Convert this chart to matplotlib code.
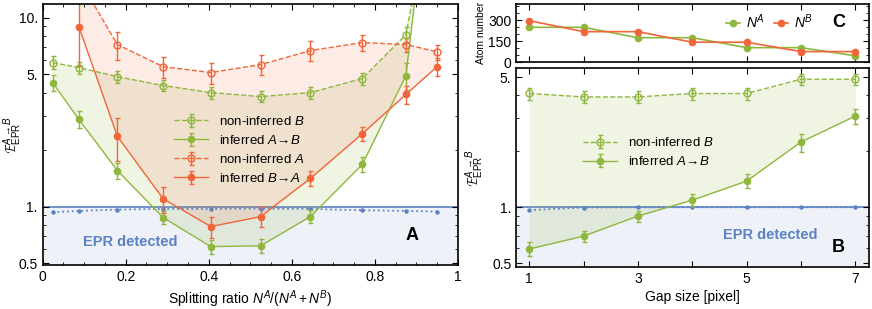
import matplotlib.pyplot as plt
from matplotlib.ticker import FixedLocator, FixedFormatter, NullFormatter

plt.rcParams['font.family'] = ['Liberation Sans', 'DejaVu Sans']
plt.rcParams['mathtext.fontset'] = 'custom'
plt.rcParams['mathtext.it'] = 'Liberation Sans:italic'
plt.rcParams['mathtext.rm'] = 'Liberation Sans'

green = '#8fb73e'
orange = '#f0653a'
blue = '#5b82c3'

# panel A: splitting ratio scan
split_x = [0.024, 0.087, 0.18, 0.29, 0.405, 0.525, 0.645, 0.77, 0.875, 0.95]
nonB_a = [5.78, 5.44, 4.87, 4.37, 4.01, 3.82, 4.01, 4.76, 8.13, 60]
nonB_a_err = [0.45, 0.4, 0.35, 0.3, 0.3, 0.25, 0.3, 0.35, 0.8, 5]
infAB_a = [4.53, 2.89, 1.55, 0.875, 0.614, 0.62, 0.885, 1.67, 4.93, 120]
infAB_a_err = [0.45, 0.3, 0.15, 0.07, 0.05, 0.05, 0.07, 0.15, 0.8, 10]
orange_x = [0.087, 0.18, 0.29, 0.405, 0.525, 0.645, 0.77, 0.875, 0.95]
nonA_a = [16, 7.2, 5.5, 5.12, 5.64, 6.69, 7.38, 7.2, 6.6]
nonA_a_err = [3, 1.2, 0.7, 0.65, 0.7, 0.8, 0.7, 0.6, 0.6]
infBA_a = [8.96, 2.35, 1.10, 0.784, 0.885, 1.41, 2.43, 3.92, 5.5]
infBA_a_err = [3.4, 0.6, 0.17, 0.1, 0.11, 0.13, 0.22, 0.45, 0.6]
bound_a = [0.933, 0.949, 0.964, 0.972, 0.972, 0.976, 0.972, 0.956, 0.949, 0.941]

# panel B/C: gap size scan
gap = [1, 2, 3, 4, 5, 6, 7]
nonB_b = [4.09, 3.92, 3.92, 4.09, 4.09, 4.88, 4.88]
nonB_b_err = [0.3, 0.3, 0.3, 0.3, 0.3, 0.35, 0.35]
infAB_b = [0.595, 0.698, 0.895, 1.09, 1.38, 2.24, 3.09]
infAB_b_err = [0.05, 0.05, 0.06, 0.08, 0.12, 0.25, 0.3]
bound_b = [0.963, 0.995, 0.997, 0.998, 0.998, 0.998, 0.998]
atoms_A = [248, 248, 174, 174, 103, 103, 45]
atoms_B = [295, 217, 217, 142, 142, 75, 75]

ylab = r'$\mathcal{E}^{A\to B}_{\rm EPR}$'
cap = dict(capsize=1.8, elinewidth=1.0, capthick=1.0)


def frame(ax):
    ax.tick_params(which='both', direction='in', top=True, right=True, labelsize=10)
    ax.tick_params(which='major', length=4)
    ax.tick_params(which='minor', length=2)
    for s in ax.spines.values():
        s.set_linewidth(1.2)


def log_ticks(ax):
    ax.set_yscale('log')
    ax.yaxis.set_major_locator(FixedLocator([0.5, 1, 5, 10]))
    ax.yaxis.set_major_formatter(FixedFormatter(['0.5', '1.', '5.', '10.']))
    ax.yaxis.set_minor_locator(FixedLocator([0.6, 0.7, 0.8, 0.9, 2, 3, 4, 6, 7, 8, 9]))
    ax.yaxis.set_minor_formatter(NullFormatter())


fig = plt.figure(figsize=(8.72, 3.09), dpi=100)
axA = fig.add_axes([0.049, 0.142, 0.476, 0.845])
axC = fig.add_axes([0.592, 0.799, 0.405, 0.188])
axB = fig.add_axes([0.592, 0.136, 0.405, 0.643])

# ---- A ----
axA.axhspan(0.3, 1.0, color='#eef1f7', zorder=0)
axA.axhline(1.0, color=blue, lw=1.2, zorder=1)
axA.fill_between(split_x, nonB_a, infAB_a, color=green, alpha=0.14, lw=0)
axA.fill_between(orange_x, nonA_a, infBA_a, color=orange, alpha=0.13, lw=0)
axA.plot(split_x, bound_a, ':', color=blue, lw=1.3, marker='o', ms=2.2)
axA.errorbar(split_x, nonB_a, yerr=nonB_a_err, fmt='--o', color=green, mfc='none',
             ms=5, lw=1, label='non-inferred $B$', **cap)
axA.errorbar(split_x, infAB_a, yerr=infAB_a_err, fmt='-o', color=green,
             ms=4.5, lw=1, label=r'inferred $A\!\to\!B$', **cap)
axA.errorbar(orange_x, nonA_a, yerr=nonA_a_err, fmt='--o', color=orange, mfc='none',
             ms=5, lw=1, label='non-inferred $A$', **cap)
axA.errorbar(orange_x, infBA_a, yerr=infBA_a_err, fmt='-o', color=orange,
             ms=4.5, lw=1, label=r'inferred $B\!\to\!A$', **cap)
axA.set_xlim(0, 1)
axA.set_ylim(0.49, 11.8)
log_ticks(axA)
axA.set_xticks([0, 0.2, 0.4, 0.6, 0.8, 1.0])
axA.set_xticklabels(['0', '0.2', '0.4', '0.6', '0.8', '1'])
axA.set_xticks([i * 0.05 for i in range(21)], minor=True)
frame(axA)
axA.set_xlabel('Splitting ratio $N^A/(N^A+N^B)$', fontsize=10, labelpad=3)
axA.set_ylabel(ylab, fontsize=10)
axA.yaxis.set_label_coords(-0.045, 0.5)
axA.legend(loc='upper left', bbox_to_anchor=(0.3, 0.6), frameon=False, fontsize=9.5,
           handlelength=2.6, labelspacing=0.45, borderpad=0)
axA.text(0.21, 0.09, 'EPR detected', transform=axA.transAxes, color=blue,
         fontsize=10.5, fontweight='bold', ha='center', va='center')
axA.text(0.89, 0.115, 'A', transform=axA.transAxes, fontsize=13, fontweight='bold',
         ha='center', va='center')

# ---- C ----
axC.plot(gap, atoms_A, '-o', color=green, ms=4.5, lw=1.2, label='$N^A$')
axC.plot(gap, atoms_B, '-o', color=orange, ms=4.5, lw=1.2, label='$N^B$')
axC.set_xlim(0.76, 7.26)
axC.set_ylim(0, 414)
axC.set_yticks([0, 150, 300])
axC.set_yticks([50, 100, 200, 250, 350, 400], minor=True)
axC.set_xticks(gap)
axC.set_xticklabels([])
frame(axC)
axC.set_ylabel('Atom number', fontsize=7.5)
axC.yaxis.set_label_coords(-0.085, 0.5)
axC.legend(loc='center left', bbox_to_anchor=(0.575, 0.69), ncol=2, frameon=False,
           fontsize=10, handlelength=1.0, columnspacing=0.7, handletextpad=0.4, borderpad=0)
axC.text(0.912, 0.69, 'C', transform=axC.transAxes, fontsize=13, fontweight='bold',
         ha='center', va='center')

# ---- B ----
axB.axhspan(0.3, 1.0, color='#eef1f7', zorder=0)
axB.axhline(1.0, color=blue, lw=1.2, zorder=1)
axB.fill_between(gap, nonB_b, infAB_b, color=green, alpha=0.14, lw=0)
axB.plot(gap, bound_b, ':', color=blue, lw=1.3, marker='o', ms=2.2)
axB.errorbar(gap, nonB_b, yerr=nonB_b_err, fmt='--o', color=green, mfc='none',
             ms=5, lw=1, label='non-inferred $B$', **cap)
axB.errorbar(gap, infAB_b, yerr=infAB_b_err, fmt='-o', color=green,
             ms=4.5, lw=1, label=r'inferred $A\!\to\!B$', **cap)
axB.set_xlim(0.76, 7.26)
axB.set_ylim(0.476, 5.59)
log_ticks(axB)
axB.set_xticks(gap)
axB.set_xticklabels(['1', '', '3', '', '5', '', '7'])
frame(axB)
axB.set_xlabel('Gap size [pixel]', fontsize=10, labelpad=3)
axB.set_ylabel(ylab, fontsize=10)
axB.yaxis.set_label_coords(-0.085, 0.5)
axB.legend(loc='upper left', bbox_to_anchor=(0.17, 0.69), frameon=False, fontsize=9.5,
           handlelength=2.6, labelspacing=0.45, borderpad=0)
axB.text(0.72, 0.16, 'EPR detected', transform=axB.transAxes, color=blue,
         fontsize=10.5, fontweight='bold', ha='center', va='center')
axB.text(0.912, 0.10, 'B', transform=axB.transAxes, fontsize=13, fontweight='bold',
         ha='center', va='center')

fig.savefig('out.png', dpi=100)
